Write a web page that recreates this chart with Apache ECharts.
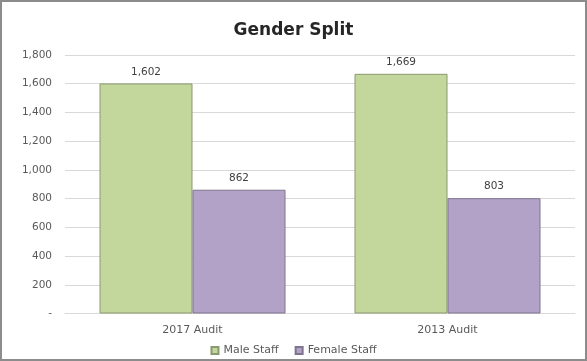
<!DOCTYPE html>
<html><head><meta charset="utf-8">
<script src="https://cdn.jsdelivr.net/npm/echarts@6/dist/echarts.min.js"></script>
<style>html,body{margin:0;padding:0;background:#fff}#c{width:587px;height:361px}</style>
</head><body><div id="c"></div>
<script>
const categories = ['2017 Audit', '2013 Audit'];
const maleStaff = [1602, 1669];
const femaleStaff = [862, 803];
const seriesNames = ['Male Staff', 'Female Staff'];

const chart = echarts.init(document.getElementById('c'));
const fmt = v => v === 0 ? '-' : v.toLocaleString('en-US');
const FONT = 'DejaVu Sans';
chart.setOption({
  animation: false,
  backgroundColor: '#fff',
  title: {
    text: 'Gender Split', left: 'center', top: 17,
    textStyle: { fontFamily: FONT, fontWeight: 'bold', fontSize: 17, color: '#262626' }
  },
  graphic: [{ type: 'rect', shape: { x: 1, y: 1, width: 585, height: 359 },
    style: { fill: 'none', stroke: '#8c8c8c', lineWidth: 2 } }],
  legend: {
    bottom: 0, left: 'center', itemWidth: 7, itemHeight: 7, itemGap: 16, icon: 'rect',
    textStyle: { fontFamily: FONT, fontSize: 11, color: '#595959' }
  },
  grid: { left: 65, right: 12, top: 55, bottom: 47.5, containLabel: false },
  xAxis: {
    type: 'category', data: categories,
    axisLine: { lineStyle: { color: '#d9d9d9' } }, axisTick: { show: false },
    axisLabel: { fontFamily: FONT, fontSize: 11, color: '#595959', margin: 11 }
  },
  yAxis: {
    type: 'value', min: 0, max: 1800, interval: 200,
    axisLine: { show: false }, axisTick: { show: false },
    splitLine: { lineStyle: { color: '#d9d9d9' } },
    axisLabel: { fontFamily: FONT, fontSize: 10.5, color: '#595959', margin: 13, formatter: fmt }
  },
  series: [
    { name: seriesNames[0], type: 'bar', data: maleStaff, barWidth: 93, barGap: '0%',
      itemStyle: { color: '#c3d69b', borderColor: '#8a9a70', borderWidth: 1 },
      label: { show: true, position: 'top', distance: 6, fontFamily: FONT, fontSize: 10.5, color: '#404040', formatter: p => fmt(p.value) } },
    { name: seriesNames[1], type: 'bar', data: femaleStaff, barWidth: 93,
      itemStyle: { color: '#b3a2c7', borderColor: '#7f7490', borderWidth: 1 },
      label: { show: true, position: 'top', distance: 6, fontFamily: FONT, fontSize: 10.5, color: '#404040', formatter: p => fmt(p.value) } }
  ]
});
</script></body></html>
